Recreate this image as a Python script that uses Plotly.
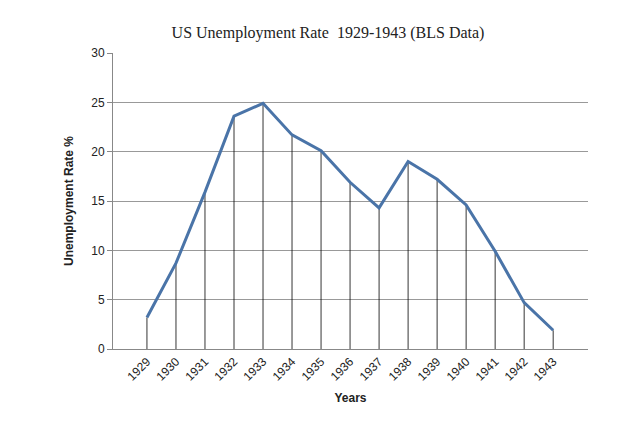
import plotly.graph_objects as go

years = [str(y) for y in range(1929, 1944)]
rates = [3.2, 8.7, 15.9, 23.6, 24.9, 21.7, 20.1, 16.9, 14.3, 19.0, 17.2, 14.6, 9.9, 4.7, 1.9]

idx = list(range(len(years)))
dx, dy = [], []
for i, r in zip(idx, rates):
    dx += [i, i, None]
    dy += [0, r, None]

fig = go.Figure()
fig.add_trace(go.Scatter(x=dx, y=dy, mode="lines", line=dict(color="black", width=0.8), hoverinfo="skip"))
fig.add_trace(go.Scatter(x=idx, y=rates, mode="lines", line=dict(color="#4a74a8", width=3)))
fig.update_layout(
    width=640, height=424, showlegend=False,
    paper_bgcolor="white", plot_bgcolor="white",
    margin=dict(l=105, r=60, t=45, b=83, autoexpand=False),
    title=dict(text="US Unemployment Rate  1929-1943 (BLS Data)", x=0.5, xanchor="center", y=0.955,
               font=dict(family="Liberation Serif", size=16, color="#222")),
    font=dict(family="Liberation Sans", size=12, color="#222"),
)
fig.update_xaxes(tickmode="array", tickvals=idx, ticktext=years, tickangle=-45, automargin=False,
                 range=[-1.17, 15.2], showgrid=False, showline=True, linecolor="#888",
                 title=dict(text="<b>Years</b>", font=dict(size=12), standoff=10), zeroline=False)
fig.update_yaxes(range=[0, 30], dtick=5, showgrid=True, gridcolor="#999", showline=True, automargin=False,
                 linecolor="#888", zeroline=False, ticks="outside", tickcolor="#888",
                 title=dict(text="<b>Unemployment Rate %</b>", font=dict(size=12)))
fig.write_html("out.html")
